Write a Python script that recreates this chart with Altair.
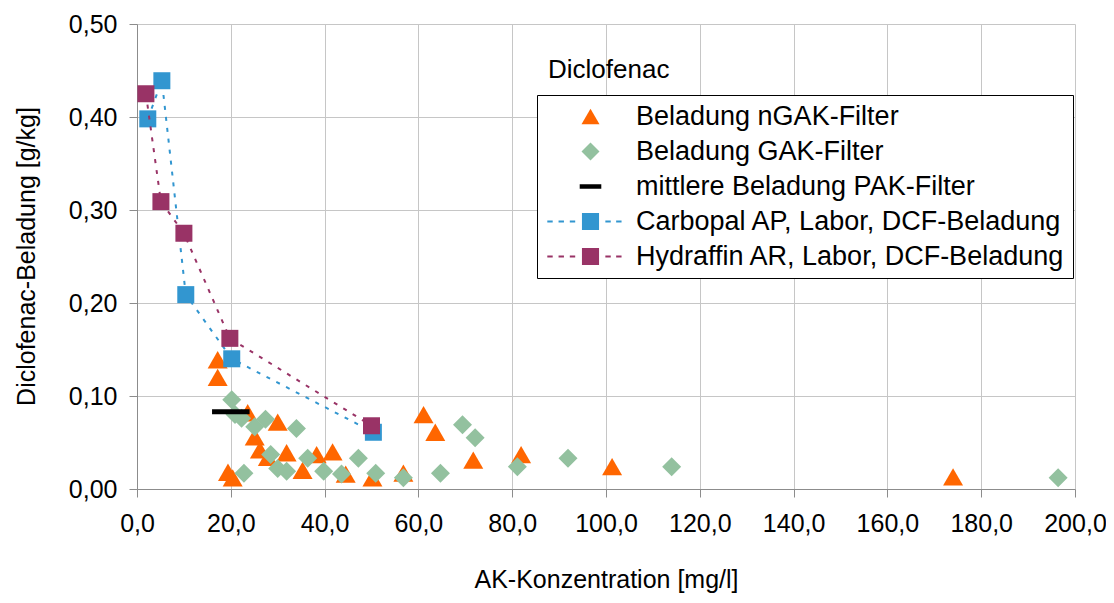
import altair as alt
import pandas as pd

# ---------------- data ----------------
series_names = [
    "Beladung nGAK-Filter",
    "Beladung GAK-Filter",
    "mittlere Beladung PAK-Filter",
    "Carbopal AP, Labor, DCF-Beladung",
    "Hydraffin AR, Labor, DCF-Beladung",
]
legend_title = "Diclofenac"
x_title = "AK-Konzentration [mg/l]"
y_title = "Diclofenac-Beladung [g/kg]"

ngak_x = [17.2, 17.2, 23.6, 30.0, 25.1, 26.2, 31.9, 27.9, 38.3, 41.7, 35.3,
          19.4, 20.4, 44.5, 50.2, 56.8, 61.1, 63.6, 71.7, 81.9, 101.3, 174.0]
ngak_y = [0.139, 0.120, 0.082, 0.072, 0.056, 0.042, 0.039, 0.034, 0.037, 0.040, 0.020,
          0.018, 0.012, 0.016, 0.012, 0.017, 0.080, 0.061, 0.031, 0.037, 0.024, 0.013]

gak_x = [20.2, 20.9, 22.3, 25.1, 27.4, 34.0, 28.5, 30.0, 31.9, 22.8, 36.4, 39.8,
         43.6, 47.2, 50.9, 56.8, 64.7, 69.4, 72.1, 81.1, 91.9, 114.0, 196.4]
gak_y = [0.096, 0.080, 0.076, 0.067, 0.075, 0.065, 0.037, 0.022, 0.019, 0.017, 0.033, 0.019,
         0.016, 0.033, 0.017, 0.012, 0.017, 0.069, 0.055, 0.024, 0.033, 0.024, 0.012]

pak_x = [16.0, 24.0]
pak_y = [0.083, 0.083]

carb_x = [2.3, 5.3, 10.4, 20.2, 50.4]
carb_y = [0.398, 0.439, 0.209, 0.140, 0.061]

hydr_x = [1.9, 5.1, 10.0, 19.8, 50.0]
hydr_y = [0.425, 0.309, 0.275, 0.162, 0.068]

x_ticks = [0, 20, 40, 60, 80, 100, 120, 140, 160, 180, 200]
y_ticks = [0.0, 0.1, 0.2, 0.3, 0.4, 0.5]

colors = ["#FF6600", "#93C19F", "#000000", "#3296D0", "#993366"]

# ---------------- table ----------------
rows = []
for name, xs, ys in zip(series_names,
                        [ngak_x, gak_x, pak_x, carb_x, hydr_x],
                        [ngak_y, gak_y, pak_y, carb_y, hydr_y]):
    for i, (xv, yv) in enumerate(zip(xs, ys)):
        rows.append({"series": name, "x": xv, "y": yv, "i": i})
df = pd.DataFrame(rows)

# ---------------- legend symbol shapes ----------------
def rect(x0, x1, h0, h1):
    return f"M{x0:.2f},{h0:.2f}H{x1:.2f}V{h1:.2f}H{x0:.2f}Z"

dash_starts = [-4.8, -3.55, -2.3, 1.65, 2.85]
dashes = " ".join(rect(s, s + 0.6, -0.12, 0.12) for s in dash_starts)
line_square = dashes + " " + rect(-0.95, 0.95, -0.95, 0.95)
pak_bar = rect(-1.2, 1.2, -0.25, 0.25)
shapes = ["triangle-up", "diamond", pak_bar, line_square, line_square]

FONT = "Liberation Sans"

x_enc = alt.X(
    "x:Q",
    scale=alt.Scale(domain=[0, 200], nice=False, zero=False),
    axis=alt.Axis(
        values=x_ticks,
        title=x_title,
        labelExpr="replace(format(datum.value, '.1f'), '.', ',')",
        labelPadding=14,
        labelFlush=False,
        labelOverlap=False,
        tickSize=8,
        titleY=98,
        titleBaseline="alphabetic",
    ),
)
y_enc = alt.Y(
    "y:Q",
    scale=alt.Scale(domain=[0, 0.5], nice=False),
    axis=alt.Axis(
        values=y_ticks,
        title=y_title,
        labelExpr="replace(format(datum.value, '.2f'), '.', ',')",
        labelPadding=12,
        labelFlush=False,
        labelOverlap=False,
        tickSize=8,
        titleX=-111,
        titleY=232,
        titleBaseline="middle",
    ),
)

base = alt.Chart(df)


def sel(k):
    return alt.datum.series == series_names[k]


legend = alt.Legend(
    title=None,
    orient="none",
    legendX=400,
    legendY=71,
)

legend_layer = base.transform_filter("false").mark_point(filled=True, opacity=1).encode(
    x=x_enc,
    y=y_enc,
    shape=alt.Shape("series:N", scale=alt.Scale(domain=series_names, range=shapes), legend=legend),
    color=alt.Color("series:N", scale=alt.Scale(domain=series_names, range=colors), legend=legend),
)

tri = base.transform_filter(sel(0)).mark_point(
    shape="triangle-up", filled=True, size=400, color=colors[0], opacity=1
).encode(x=x_enc, y=y_enc)

dia = base.transform_filter(sel(1)).mark_point(
    shape="diamond", filled=True, size=361, color=colors[1], opacity=1
).encode(x=x_enc, y=y_enc)

pak = base.transform_filter(sel(2)).mark_line(
    color=colors[2], strokeWidth=5, strokeCap="butt"
).encode(x=x_enc, y=y_enc, order="i:Q")

carb_line = base.transform_filter(sel(3)).mark_line(
    color=colors[3], strokeWidth=2, strokeDash=[4, 7]
).encode(x=x_enc, y=y_enc, order="i:Q")
carb_pts = base.transform_filter(sel(3)).mark_point(
    shape="square", filled=True, size=289, color=colors[3], opacity=1
).encode(x=x_enc, y=y_enc)

hydr_line = base.transform_filter(sel(4)).mark_line(
    color=colors[4], strokeWidth=2, strokeDash=[4, 7]
).encode(x=x_enc, y=y_enc, order="i:Q")
hydr_pts = base.transform_filter(sel(4)).mark_point(
    shape="square", filled=True, size=289, color=colors[4], opacity=1
).encode(x=x_enc, y=y_enc)

title_txt = alt.Chart(pd.DataFrame({"t": [legend_title]})).mark_text(
    align="left", baseline="middle", fontSize=26, font=FONT, color="black"
).encode(text="t:N", x=alt.value(411), y=alt.value(46))

chart = alt.layer(
    legend_layer, tri, dia, pak, carb_line, carb_pts, hydr_line, hydr_pts, title_txt
).properties(
    width=938,
    height=465,
    autosize=alt.AutoSizeParams(type="none"),
    padding={"left": 129, "top": 16, "right": 31, "bottom": 106},
).configure(
    font=FONT,
).configure_view(
    stroke=None,
).configure_axis(
    labelFont=FONT,
    titleFont=FONT,
    labelFontSize=25,
    titleFontSize=25,
    labelColor="black",
    titleColor="black",
    titleFontWeight="normal",
    gridColor="#C6C6C6",
    gridWidth=1,
    domainColor="#8C8C8C",
    tickColor="#8C8C8C",
    domainWidth=1,
).configure_legend(
    labelFont=FONT,
    labelFontSize=27,
    labelColor="black",
    strokeColor="black",
    strokeWidth=1,
    fillColor="white",
    padding=8,
    rowPadding=7,
    symbolSize=324,
    symbolOffset=32,
    labelOffset=32,
    symbolStrokeWidth=0,
    labelLimit=600,
)

chart.save("out.html", embed_options={"renderer": "svg", "actions": False})
